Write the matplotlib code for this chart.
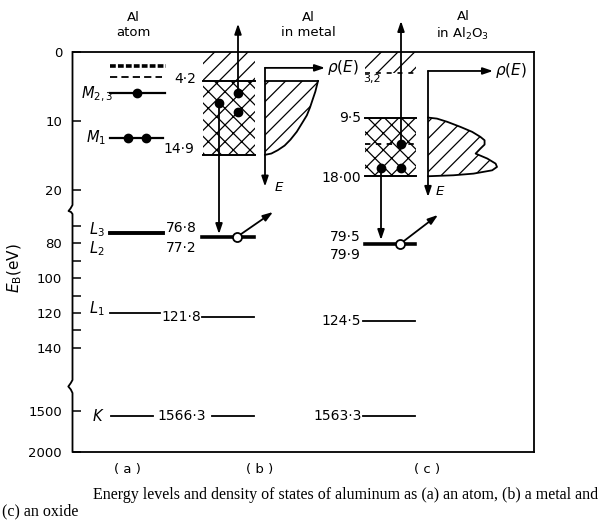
import numpy as np
import matplotlib
matplotlib.use("Agg")
import matplotlib.pyplot as plt

plt.rcParams["font.family"] = "DejaVu Sans"
plt.rcParams["mathtext.fontset"] = "dejavusans"
plt.rcParams["hatch.linewidth"] = 0.9

# ---- valori (energia di legame E_B in eV) ----
yticks = [0, 10, 20, 80, 100, 120, 140, 1500, 2000]
yticks_minor = [70, 90, 110, 130]

# asse spezzato: energia -> riga in pixel del disegno originale
brk_E = [-20, 0, 22.5, 62, 160, 1300, 2000, 2500]
brk_px = [-86, 52, 207.3, 212, 382.5, 394.3, 451.7, 492.7]

# (a) atomo libero
atom_vac = [2.0, 3.6]
atom_E = [6.0, 12.5, 74.0, 120.0, 1566.3]
atom_names = [r"$M_{2,3}$", r"$M_1$", r"$L_3$", r"$L_1$", r"$K$"]
atom_L2_name = r"$L_2$"

# (b) metallo
metal_band = [4.2, 14.9]
metal_core = [76.3, 122.3, 1566.3]
metal_electrons = [6.0, 7.45, 8.75]
metal_dos_E = [4.2, 5.73, 6.87, 8.02, 9.17, 10.3, 11.55, 12.7, 13.56, 14.23, 14.71, 14.9]
metal_dos_rho = [1.0, 0.95, 0.90, 0.85, 0.79, 0.70, 0.60, 0.48, 0.37, 0.24, 0.12, 0.0]

# (c) ossido
oxide_top = 3.0
oxide_band = [9.5, 18.0]
oxide_mid = 13.3
oxide_core = [80.4, 124.5, 1563.3]
oxide_electrons = [13.3, 16.8, 16.8]
oxide_dos_E = [9.5, 9.65, 10.12, 10.85, 11.57, 12.3, 12.79, 13.41, 13.99, 14.72,
               15.44, 16.17, 16.65, 17.14, 17.62, 17.86, 18.0]
oxide_dos_rho = [0.0, 0.13, 0.28, 0.47, 0.64, 0.76, 0.82, 0.82, 0.76, 0.69,
                 0.86, 0.98, 1.0, 0.93, 0.66, 0.37, 0.0]

# etichette numeriche
lab_metal_band = ["4·2", "14·9"]
lab_L = ["76·8", "77·2"]
lab_L1 = "121·8"
lab_K = "1566·3"
lab_ox_band = ["9·5", "18·00"]
lab_ox_L = ["79·5", "79·9"]
lab_ox_L1 = "124·5"
lab_ox_K = "1563·3"

caption1 = "Energy levels and density of states of aluminum as (a) an atom, (b) a metal and"
caption2 = "(c) an oxide"


def fwd(E):
    return np.interp(E, brk_E, brk_px)


def inv(p):
    return np.interp(p, brk_px, brk_E)


k = "black"
fig = plt.figure(figsize=(6, 5.2), dpi=100)
ax = fig.add_axes([72.5 / 600, 68.3 / 520, 461 / 600, 399.7 / 520])
ax.set_yscale("function", functions=(fwd, inv))
ax.set_ylim(2000, 0)
ax.set_xlim(72.5, 533.5)

ax.set_yticks(yticks)
ax.set_yticklabels([str(t) for t in yticks])
ax.set_yticks(yticks_minor, minor=True)
ax.set_xticks([])
ax.tick_params(axis="y", which="both", direction="in", length=5.5, width=1.1,
               pad=7.5, labelsize=9.5)
for s in ["top", "right", "bottom"]:
    ax.spines[s].set_linewidth(1.3)
ax.spines["left"].set_visible(False)

# bordo sinistro con le interruzioni
ax_x = lambda px: (px - 72.5) / 461
ax_y = lambda py: (451.7 - py) / 399.7
border = [(72.5, 52), (72.5, 205), (70.5, 208.5), (68.5, 211), (71, 212), (72.5, 214),
          (72.5, 380), (70.8, 383), (68.3, 386.5), (70.8, 389.5), (72.5, 393), (72.5, 451.7)]
ax.plot([ax_x(p[0]) for p in border], [ax_y(p[1]) for p in border], color=k, lw=1.3,
        transform=ax.transAxes, clip_on=False, solid_joinstyle="round")

ax.set_ylabel(r"$E_{\rm B}$(eV)", fontsize=11)
ax.yaxis.set_label_coords(ax_x(24), ax_y(268))

arr = dict(arrowstyle="-|>,head_length=0.5,head_width=0.17", color=k, lw=1.3,
           mutation_scale=12, shrinkA=0, shrinkB=0)


def arrow(x0, E0, x1, E1):
    ax.annotate("", xy=(x1, E1), xytext=(x0, E0), arrowprops=arr, annotation_clip=False)


def label(txt, x, E, ha="center", va="center", dy=0, size=10):
    ax.annotate(txt, xy=(x, E), xytext=(0, dy), textcoords="offset points",
                ha=ha, va=va, fontsize=size, annotation_clip=False)


# ---- (a) atomo ----
ax.plot([110, 166], [atom_vac[0]] * 2, color=k, lw=2.6, dashes=(1.6, 0.6))
ax.plot([110, 162], [atom_vac[1]] * 2, color=k, lw=1.3, dashes=(4, 2.3))
ax.plot([110, 165], [atom_E[0]] * 2, color=k, lw=1.6)
ax.plot([137], [atom_E[0]], "o", color=k, ms=6)
ax.plot([110, 163], [atom_E[1]] * 2, color=k, lw=1.6)
ax.plot([128, 146], [atom_E[1]] * 2, "o", color=k, ms=6)
ax.plot([110, 163], [atom_E[2]] * 2, color=k, lw=2.8)
ax.plot([110, 160], [atom_E[3]] * 2, color=k, lw=1.3)
ax.plot([111, 153], [atom_E[4]] * 2, color=k, lw=1.3)

label(atom_names[0], 113, atom_E[0], ha="right", va="baseline", dy=-3.6, size=10.5)
label(atom_names[1], 106, atom_E[1], ha="right", va="baseline", dy=-3.2, size=10.5)
label(atom_names[2], 105, atom_E[2], ha="right", dy=2.2, size=10.5)
label(atom_L2_name, 105, atom_E[2], ha="right", dy=-11, size=10.5)
label(atom_names[3], 105, atom_E[3], ha="right", va="baseline", dy=0, size=10.5)
label(atom_names[4], 105, atom_E[4], ha="right", size=10.5)

label(lab_metal_band[0], 196, metal_band[0], ha="right", dy=1.5)
label(lab_metal_band[1], 194, metal_band[1], ha="right", dy=4)
label(lab_L[0], 181, atom_E[2], dy=3.6)
label(lab_L[1], 181, atom_E[2], dy=-10.8)
label(lab_L1, 181, metal_core[1])
label(lab_K, 182, atom_E[4])

# ---- (b) metallo ----
ax.fill_between([203, 255], 0, metal_band[0], facecolor="none", edgecolor=k, hatch="//", lw=0)
ax.fill_between([203, 255], metal_band[0], metal_band[1], facecolor="none", edgecolor=k,
                hatch="xx", lw=0)
ax.plot([203, 255], [metal_band[0]] * 2, color=k, lw=1.4)
ax.plot([203, 255], [metal_band[1]] * 2, color=k, lw=1.4)
ax.plot([202, 254], [metal_core[0]] * 2, color=k, lw=2.6)
ax.plot([202, 254], [metal_core[1]] * 2, color=k, lw=1.3)
ax.plot([212, 254], [metal_core[2]] * 2, color=k, lw=1.3)

arrow(238, metal_electrons[0], 238, -4.1)
arrow(219, metal_electrons[1], 219, 74.7)
ax.plot([238, 219, 238], metal_electrons, "o", color=k, ms=6, zorder=4)
arrow(237, metal_core[0], 273, 62.0)
ax.plot([237], [metal_core[0]], "o", mfc="white", mec=k, mew=1.3, ms=6.5, zorder=4)

mx0, mw = 265, 53
mxs = mx0 + mw * np.array(metal_dos_rho)
ax.fill_betweenx(metal_dos_E, mx0, mxs, facecolor="none", edgecolor=k, hatch="//", lw=0)
ax.plot(mxs, metal_dos_E, color=k, lw=1.3)
ax.plot([mx0, mxs[0]], [metal_dos_E[0]] * 2, color=k, lw=1.3)
arrow(mx0, 2.3, 325, 2.3)
arrow(mx0, 2.3, mx0, 19.5)
label(r"$\rho(E)$", 327, 2.3, ha="left", size=11)
label(r"$E$", 274, 19.6, ha="left", size=9.5)

# ---- (c) ossido ----
ax.fill_between([365, 416], 0, oxide_top, facecolor="none", edgecolor=k, hatch="//", lw=0)
ax.plot([365, 416], [oxide_top] * 2, color=k, lw=1.2, dashes=(3, 3.5))
label("3,2", 372, oxide_top, va="top", dy=-1, size=8)
ax.fill_between([365, 416], oxide_band[0], oxide_band[1], facecolor="none", edgecolor=k,
                hatch="xx", lw=0)
ax.plot([365, 416], [oxide_band[0]] * 2, color=k, lw=1.4)
ax.plot([365, 416], [oxide_band[1]] * 2, color=k, lw=1.4)
ax.plot([365, 416], [oxide_mid] * 2, color=k, lw=1.3, dashes=(3, 3))
ax.plot([365, 415], [oxide_core[0]] * 2, color=k, lw=2.6)
ax.plot([363, 415], [oxide_core[1]] * 2, color=k, lw=1.3)
ax.plot([363, 415], [oxide_core[2]] * 2, color=k, lw=1.3)

arrow(401, oxide_electrons[0], 401, -4.5)
arrow(381, oxide_electrons[1], 381, 78.1)
ax.plot([401, 381, 401], oxide_electrons, "o", color=k, ms=6, zorder=4)
arrow(400, oxide_core[0], 438, 63.7)
ax.plot([400], [oxide_core[0]], "o", mfc="white", mec=k, mew=1.3, ms=6.5, zorder=4)

ox0, ow = 428, 69
oxs = ox0 + ow * np.array(oxide_dos_rho)
ax.fill_betweenx(oxide_dos_E, ox0, oxs, facecolor="none", edgecolor=k, hatch="//", lw=0)
ax.plot(oxs, oxide_dos_E, color=k, lw=1.3)
arrow(ox0, 2.75, 493, 2.75)
arrow(ox0, 2.75, ox0, 21.0)
label(r"$\rho(E)$", 495, 2.75, ha="left", size=11)
label(r"$E$", 435, 20.2, ha="left", size=9.5)

label(lab_ox_band[0], 361, oxide_band[0], ha="right")
label(lab_ox_band[1], 361, oxide_band[1], ha="right", dy=-1.5)
label(lab_ox_L[0], 361, oxide_core[0], ha="right", dy=5)
label(lab_ox_L[1], 361, oxide_core[0], ha="right", dy=-8)
label(lab_ox_L1, 361, oxide_core[1], ha="right")
label(lab_ox_K, 362, oxide_core[2], ha="right")

# ---- intestazioni e didascalia ----
fig.text(133 / 600, 1 - 25 / 520, "Al\natom", ha="center", va="center", fontsize=9.5,
         linespacing=1.25)
fig.text(308 / 600, 1 - 25 / 520, "Al\nin metal", ha="center", va="center", fontsize=9.5,
         linespacing=1.25)
fig.text(463 / 600, 1 - 26 / 520, "Al\nin Al$_2$O$_3$", ha="center", va="center",
         fontsize=9.5, linespacing=1.2)
for t, x in zip(["( a )", "( b )", "( c )"], [127, 260, 427]):
    fig.text(x / 600, 1 - 469 / 520, t, ha="center", va="center", fontsize=9.5)

fig.text(93 / 600, 1 - 495 / 520, caption1, ha="left", va="center", fontsize=11.5,
         family="Liberation Serif")
fig.text(2 / 600, 1 - 511 / 520, caption2, ha="left", va="center", fontsize=11.5,
         family="Liberation Serif")

fig.savefig("out.png", dpi=100)
